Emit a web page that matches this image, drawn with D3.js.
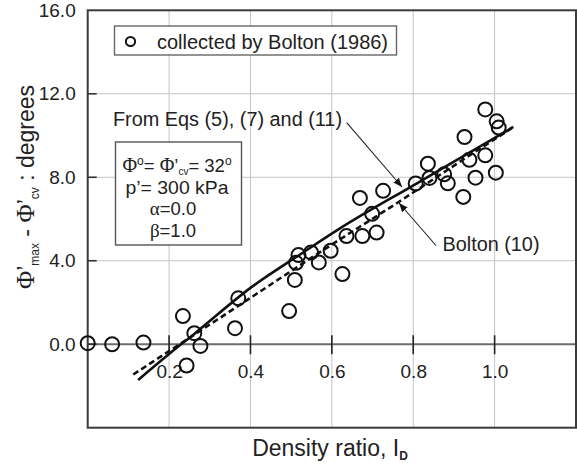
<!DOCTYPE html>
<html><head><meta charset="utf-8">
<script src="https://cdn.jsdelivr.net/npm/d3@7"></script>
<style>
body{margin:0;background:#fff;}
svg{display:block;font-family:"Liberation Sans",Arial,Helvetica,sans-serif;}
</style></head>
<body><svg id="c" width="577" height="465"></svg>
<script>
// ---- data ----
const pointX = [0.0, 0.06, 0.137, 0.234, 0.243, 0.262, 0.277, 0.362, 0.370, 0.495, 0.509, 0.512, 0.518, 0.549, 0.568, 0.597, 0.626, 0.636, 0.675, 0.669, 0.699, 0.710, 0.726, 0.806, 0.836, 0.840, 0.876, 0.885, 0.923, 0.926, 0.938, 0.953, 0.977, 0.977, 1.005, 1.010, 1.003];
const pointY = [0.05, 0.0, 0.08, 1.35, -1.02, 0.53, -0.08, 0.77, 2.2, 1.59, 3.08, 3.9, 4.27, 4.4, 3.92, 4.48, 3.36, 5.18, 5.18, 7.01, 6.25, 5.35, 7.35, 7.70, 8.65, 7.97, 8.14, 7.71, 7.06, 9.93, 8.84, 7.98, 11.25, 9.05, 10.68, 10.38, 8.22];
const eqsX = [0.124, 0.2, 0.264, 0.40, 0.522, 0.62, 0.808, 0.9, 1.046];
const eqsY = [-1.71, -0.47, 0.53, 2.7, 4.3, 5.55, 7.7, 8.75, 10.41];
const boltonX = [0.112, 0.375, 0.57, 0.767, 0.923, 1.042];
const boltonY = [-1.45, 1.9, 4.4, 6.85, 8.85, 10.35];
const xTicks = [0.2, 0.4, 0.6, 0.8, 1.0];
const yTicks = [0, 4, 8, 12, 16];
const yGrid = [4, 8, 12];
const legendLabel = "collected by Bolton (1986)";
const eqsLabel = "From Eqs (5), (7) and (11)";
const boltonLabel = "Bolton (10)";

const svg = d3.select("#c");
const L = 87.7, R = 576, T = 10.3, B = 427.7;
const x = d3.scaleLinear().domain([0, 1.2]).range([L, R]);
const y = d3.scaleLinear().domain([-4, 16]).range([B, T]);

// grid
svg.append("g").selectAll("line").data(xTicks).join("line")
  .attr("x1", d => x(d)).attr("x2", d => x(d)).attr("y1", T).attr("y2", B)
  .attr("stroke", "#c4c4c4").attr("stroke-width", 1);
svg.append("g").selectAll("line").data(yGrid).join("line")
  .attr("x1", L).attr("x2", R).attr("y1", d => y(d)).attr("y2", d => y(d))
  .attr("stroke", "#c4c4c4").attr("stroke-width", 1);

// zero axis line
svg.append("line").attr("x1", L).attr("x2", R).attr("y1", y(0)).attr("y2", y(0))
  .attr("stroke", "#6e6e6e").attr("stroke-width", 2);
// x ticks crossing the zero line
svg.append("g").selectAll("line").data(xTicks).join("line")
  .attr("x1", d => x(d)).attr("x2", d => x(d)).attr("y1", y(0) - 9).attr("y2", y(0) + 10)
  .attr("stroke", "#222").attr("stroke-width", 1.6);
// y ticks on the left axis
svg.append("g").selectAll("line").data(yTicks.filter(d => d < 16)).join("line")
  .attr("x1", L).attr("x2", L + 9).attr("y1", d => y(d)).attr("y2", d => y(d))
  .attr("stroke", "#333").attr("stroke-width", 1.6);

// frame
svg.append("rect").attr("x", L).attr("y", T).attr("width", R - L).attr("height", B - T)
  .attr("fill", "none").attr("stroke", "#3a3a3a").attr("stroke-width", 2);

// axis labels via d3 axes
const xa = svg.append("g").attr("transform", `translate(0,${y(0)})`)
  .call(d3.axisBottom(x).tickValues(xTicks).tickFormat(d3.format(".1f")).tickSize(0).tickPadding(20));
const ya = svg.append("g").attr("transform", `translate(${L},0)`)
  .call(d3.axisLeft(y).tickValues(yTicks).tickFormat(d3.format(".1f")).tickSize(0).tickPadding(12));
[xa, ya].forEach(g => {
  g.select(".domain").remove();
  g.selectAll("text").attr("font-size", 19).attr("fill", "#222")
    .attr("font-family", '"Liberation Sans",Arial,sans-serif');
});

// curves
const lineGen = d3.line().x(d => x(d[0])).y(d => y(d[1])).curve(d3.curveMonotoneX);
svg.append("path").datum(boltonX.map((v, i) => [v, boltonY[i]]))
  .attr("d", lineGen).attr("fill", "none").attr("stroke", "#111")
  .attr("stroke-width", 2.6).attr("stroke-dasharray", "6,3.5");
svg.append("path").datum(eqsX.map((v, i) => [v, eqsY[i]]))
  .attr("d", lineGen).attr("fill", "none").attr("stroke", "#111").attr("stroke-width", 2.6);

// points
svg.append("g").selectAll("circle").data(pointX.map((v, i) => [v, pointY[i]])).join("circle")
  .attr("cx", d => x(d[0])).attr("cy", d => y(d[1])).attr("r", 7)
  .attr("fill", "none").attr("stroke", "#111").attr("stroke-width", 2);

// legend box
svg.append("rect").attr("x", 114.5).attr("y", 26).attr("width", 282).attr("height", 29)
  .attr("fill", "#fff").attr("stroke", "#666").attr("stroke-width", 1.4);
svg.append("circle").attr("cx", 130.5).attr("cy", 41.5).attr("r", 4.6)
  .attr("fill", "none").attr("stroke", "#111").attr("stroke-width", 2);
svg.append("text").attr("x", 157).attr("y", 48.5).attr("font-size", 20)
  .attr("textLength", 231).attr("lengthAdjust", "spacingAndGlyphs").attr("fill", "#222")
  .text(legendLabel);

// parameter box
svg.append("rect").attr("x", 115.5).attr("y", 142).attr("width", 126).attr("height", 103)
  .attr("fill", "#fff").attr("stroke", "#555").attr("stroke-width", 1.4);
const serif = '"Liberation Serif","Times New Roman",serif';
const cx0 = 177, fs = 18.5;
const t1 = svg.append("text").attr("x", cx0).attr("y", 171.5).attr("text-anchor", "middle")
  .attr("font-size", fs).attr("fill", "#222");
t1.append("tspan").attr("font-family", serif).attr("font-size", 20).text("Φ");
t1.append("tspan").attr("font-size", 12).attr("dy", -7).text("o");
t1.append("tspan").attr("dy", 7).text("= ");
t1.append("tspan").attr("font-family", serif).attr("font-size", 20).text("Φ");
t1.append("tspan").text("’");
t1.append("tspan").attr("font-size", 10).attr("dy", 3).text("cv");
t1.append("tspan").attr("dy", -3).text("= 32");
t1.append("tspan").attr("font-size", 12).attr("dy", -7).text("o");
svg.append("text").attr("x", cx0).attr("y", 194).attr("text-anchor", "middle")
  .attr("font-size", fs).attr("fill", "#222")
  .attr("textLength", 103).attr("lengthAdjust", "spacingAndGlyphs").text("p’= 300 kPa");
const t3 = svg.append("text").attr("x", 173).attr("y", 215).attr("text-anchor", "middle")
  .attr("font-size", fs).attr("fill", "#222");
t3.append("tspan").attr("font-family", serif).attr("font-size", 19).text("α");
t3.append("tspan").text("=0.0");
const t4 = svg.append("text").attr("x", 173).attr("y", 236.5).attr("text-anchor", "middle")
  .attr("font-size", fs).attr("fill", "#222");
t4.append("tspan").attr("font-family", serif).attr("font-size", 19).text("β");
t4.append("tspan").text("=1.0");

// annotations
svg.append("text").attr("x", 113).attr("y", 126).attr("font-size", 20).attr("fill", "#222")
  .attr("textLength", 229).attr("lengthAdjust", "spacingAndGlyphs").text(eqsLabel);
svg.append("text").attr("x", 442.5).attr("y", 251).attr("font-size", 20).attr("fill", "#222")
  .attr("textLength", 97).attr("lengthAdjust", "spacingAndGlyphs").text(boltonLabel);

const defs = svg.append("defs");
defs.append("marker").attr("id", "ah").attr("viewBox", "0 0 10 10").attr("refX", 10).attr("refY", 5)
  .attr("markerWidth", 9).attr("markerHeight", 9).attr("markerUnits", "userSpaceOnUse")
  .attr("orient", "auto").append("path").attr("d", "M0,1 L10,5 L0,9 Z").attr("fill", "#111");
const arrows = [[346.7, 122.7, 402, 187], [436, 245.5, 399, 203]];
svg.append("g").selectAll("line").data(arrows).join("line")
  .attr("x1", d => d[0]).attr("y1", d => d[1]).attr("x2", d => d[2]).attr("y2", d => d[3])
  .attr("stroke", "#222").attr("stroke-width", 1.1).attr("marker-end", "url(#ah)");

// axis titles
const xt = svg.append("text").attr("x", 330).attr("y", 456).attr("text-anchor", "middle")
  .attr("font-size", 23).attr("fill", "#222");
xt.append("tspan").text("Density ratio, I");
xt.append("tspan").attr("font-size", 12).attr("font-weight", "bold").attr("dy", 4).text("D");

const yt = svg.append("text").attr("transform", "translate(34,187) rotate(-90)")
  .attr("text-anchor", "middle").attr("font-size", 23).attr("fill", "#222");
yt.append("tspan").attr("font-family", serif).attr("font-size", 25).text("Φ");
yt.append("tspan").text("’");
yt.append("tspan").attr("font-size", 12).attr("dy", 5).text("max");
yt.append("tspan").attr("dy", -5).text(" - ");
yt.append("tspan").attr("font-family", serif).attr("font-size", 25).text("Φ");
yt.append("tspan").text("’");
yt.append("tspan").attr("font-size", 12).attr("dy", 5).text("cv");
yt.append("tspan").attr("dy", -5).text(" : degrees");
</script></body></html>
